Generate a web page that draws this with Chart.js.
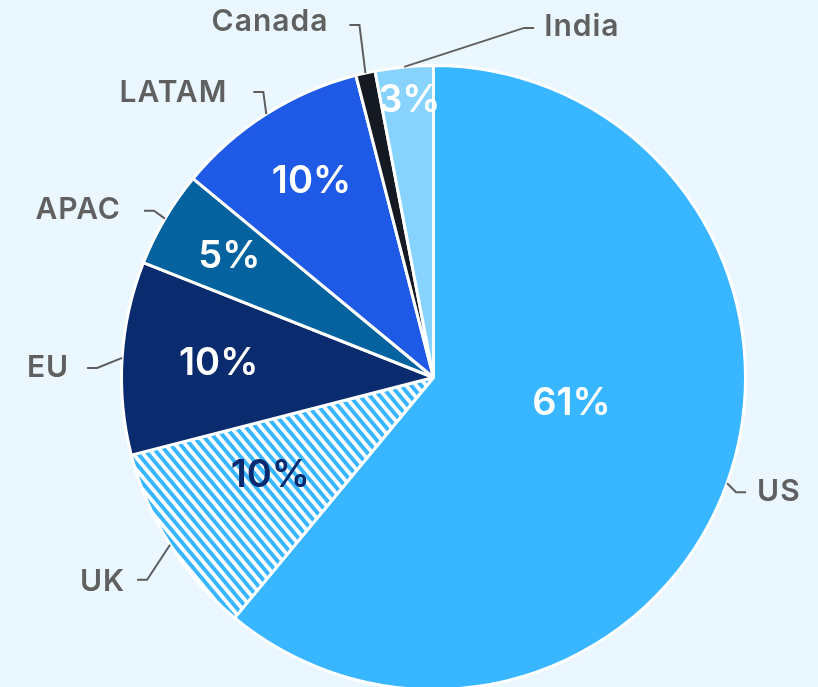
<!DOCTYPE html>
<html>
<head>
<meta charset="utf-8">
<script src="https://cdn.jsdelivr.net/npm/chart.js@4.4.1/dist/chart.umd.min.js"></script>
<style>
  html, body { margin: 0; padding: 0; background: #EAF7FE; overflow: hidden; width: 818px; height: 687px; }
  #wrap { width: 818px; height: 700px; }
</style>
</head>
<body>
<div id="wrap"><canvas id="c" width="818" height="700"></canvas></div>
<script>
// ---- Data ----
const categories = ['US', 'UK', 'EU', 'APAC', 'LATAM', 'Canada', 'India'];
const shares = [61, 10, 10, 5, 10, 1, 3];

// ---- Styles ----
const sliceColors = ['#38B6FF', 'HATCH', '#0B2B6F', '#04629F', '#1F5AE6', '#151A22', '#87D3FD'];
const pctColors = ['#FFFFFF', '#0B2B6F', '#FFFFFF', '#FFFFFF', '#FFFFFF', '#FFFFFF', '#FFFFFF'];
// inner label placement: [fraction of radius, angle offset in degrees]
const pctPlacement = [[0.45, -9], [0.61, 1.4], [0.69, 0], [0.76, 0], [0.74, 0.5], null, [0.89, 0.4]];
// leader elbow offset from slice edge (px), side (+1 right / -1 left), gap from line end to text
const leaderElbow = [[9, 9], [-23, 35], [-25, 10], [-11, -8], [-3, -22], [-6, -48], [120, -39]];
const leaderSide = [1, -1, -1, -1, -1, -1, 1];
const leaderGap = [11, 12, 18, 23, 26, 21, 10];
const labelDy = [0, 2, 0, -1, 1, -3, -1];

function makeHatch() {
  const w = 10, h = 12;
  const c = document.createElement('canvas');
  c.width = w; c.height = h;
  const g = c.getContext('2d');
  g.fillStyle = '#FFFFFF';
  g.fillRect(0, 0, w, h);
  g.strokeStyle = '#38B6FF';
  g.lineWidth = 4;
  for (let k = -1; k <= 1; k++) {
    g.beginPath();
    g.moveTo(-w, -h + k * h);
    g.lineTo(2 * w, 2 * h + k * h);
    g.stroke();
  }
  return g.createPattern(c, 'repeat');
}

const FONT = 'Inter, "Open Sans", sans-serif';

const labelPlugin = {
  id: 'sliceLabels',
  afterDatasetsDraw(chart) {
    const ctx = chart.ctx;
    const meta = chart.getDatasetMeta(0);
    const data = chart.data.datasets[0].data;
    const total = data.reduce((a, b) => a + b, 0);
    ctx.save();
    meta.data.forEach((arc, i) => {
      const p = arc.getProps(['x', 'y', 'startAngle', 'endAngle', 'outerRadius'], true);
      const mid = (p.startAngle + p.endAngle) / 2;
      // percent label
      const pl = pctPlacement[i];
      if (pl) {
        const a = mid + pl[1] * Math.PI / 180;
        const r = p.outerRadius * pl[0];
        ctx.font = '600 38px ' + FONT;
        ctx.letterSpacing = '0px';
        ctx.fillStyle = pctColors[i];
        ctx.textAlign = 'center';
        ctx.textBaseline = 'middle';
        ctx.fillText(Math.round(data[i] / total * 100) + '%', p.x + Math.cos(a) * r, p.y + Math.sin(a) * r);
      }
      // leader line + category label
      const sx = p.x + Math.cos(mid) * p.outerRadius;
      const sy = p.y + Math.sin(mid) * p.outerRadius;
      const ex = sx + leaderElbow[i][0];
      const ey = sy + leaderElbow[i][1];
      const side = leaderSide[i];
      const hx = ex + side * 10;
      ctx.strokeStyle = '#5E5E5E';
      ctx.lineWidth = 2;
      ctx.beginPath();
      ctx.moveTo(sx, sy);
      ctx.lineTo(ex, ey);
      ctx.lineTo(hx, ey);
      ctx.stroke();
      ctx.font = '600 30px ' + FONT;
      ctx.letterSpacing = '1px';
      ctx.fillStyle = '#606060';
      ctx.textBaseline = 'middle';
      ctx.textAlign = side > 0 ? 'left' : 'right';
      ctx.fillText(chart.data.labels[i], hx + side * leaderGap[i], ey + labelDy[i]);
    });
    ctx.restore();
  }
};

const hatch = makeHatch();
new Chart(document.getElementById('c'), {
  type: 'pie',
  data: {
    labels: categories,
    datasets: [{
      data: shares,
      backgroundColor: sliceColors.map(c => c === 'HATCH' ? hatch : c),
      borderColor: '#FFFFFF',
      borderWidth: 3
    }]
  },
  options: {
    responsive: false,
    animation: false,
    devicePixelRatio: 1,
    layout: { padding: { top: 64, bottom: 9, left: 120, right: 71 } },
    plugins: { legend: { display: false }, tooltip: { enabled: false } }
  },
  plugins: [labelPlugin]
});
</script>
</body>
</html>
